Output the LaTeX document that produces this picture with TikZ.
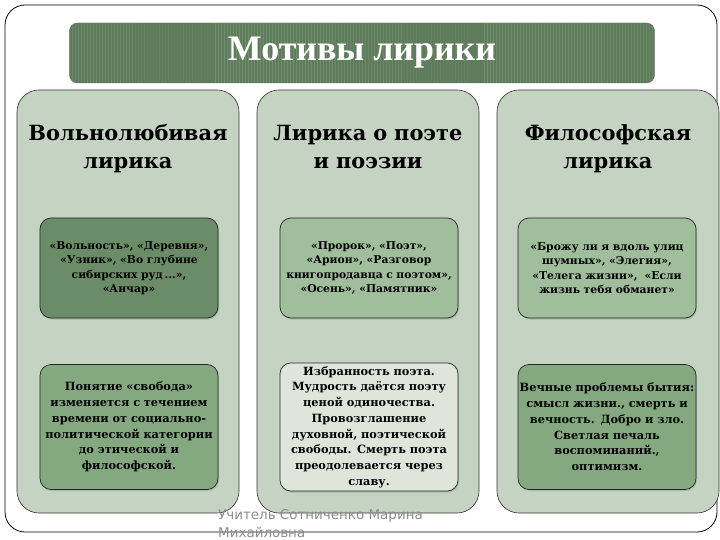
\documentclass[tikz,border=0pt]{standalone}
\usepackage{fontspec}
\setmainfont{Liberation Serif}
\newfontfamily\boxfont{DejaVu Serif}
\newfontfamily\footfont{DejaVu Sans}
\usetikzlibrary{positioning,patterns,shadows}

\definecolor{sage}{HTML}{C5D4C2}
\definecolor{titlegreen}{HTML}{5E7B5B}
\definecolor{stripegreen}{HTML}{728E6F}
\definecolor{boxdark}{HTML}{6A8C66}
\definecolor{boxmid}{HTML}{84A880}
\definecolor{boxlight}{HTML}{A0BD9C}
\definecolor{boxpale}{HTML}{DEE6DC}

\begin{document}
\begin{tikzpicture}[
    x=1bp, y=-1bp,
    frame/.style={draw=black, fill=white, rounded corners=20bp, line width=0.8pt},
    titlebar/.style={rectangle, draw=black!60, fill=titlegreen, rounded corners=8bp,
                     minimum width=585bp, minimum height=60bp,
                     postaction={pattern=vertical lines, pattern color=stripegreen},
                     font=\fontsize{36}{40}\selectfont\bfseries, text=white},
    column/.style={rectangle, draw=black!80, fill=sage, rounded corners=22bp,
                   minimum width=222bp, minimum height=423bp, line width=0.6pt},
    head/.style={text width=218bp, align=center, anchor=north, inner sep=0pt,
                 font=\boxfont\fontsize{21}{28}\selectfont\bfseries},
    inbox/.style={rectangle, draw=black!85, rounded corners=11bp, line width=0.7pt,
                  minimum width=178bp, text width=178bp, align=center, inner xsep=0pt,
                  drop shadow={shadow xshift=1bp, shadow yshift=-1.5bp, opacity=0.35}},
    topbox/.style={inbox, minimum height=100bp,
                   font=\boxfont\fontsize{10.8}{14.5}\selectfont\bfseries},
    lowbox/.style={inbox, minimum height=125bp,
                   font=\boxfont\fontsize{11.4}{15.8}\selectfont\bfseries},
    foot/.style={text=black!45, font=\footfont\fontsize{13.5}{18}\selectfont,
                 align=left, inner sep=0pt}
  ]
    \useasboundingbox (0,0) rectangle (720,540);
    \fill[white] (0,0) rectangle (720,540);

    %--- frame and title ---
    \draw[frame] (5,5) rectangle (717,532);
    \node[titlebar] (title) at (362,53) {Мотивы лирики};

    %--- columns ---
    \node[column] (c1) at (128,301.5) {};
    \node[column] (c2) at (368,301.5) {};
    \node[column] (c3) at (608,301.5) {};

    \node[head] (h1) at (128,121) {\strut Вольнолюбивая\\лирика};
    \node[head] (h2) at (368,121) {\strut Лирика о поэте\\и поэзии};
    \node[head] (h3) at (608,121) {\strut Философская\\лирика};

    %--- works ---
    \node[topbox, fill=boxdark] (w1) at (129,268)
      {«Вольность», «Деревня»,\\«Узник», «Во глубине\\сибирских руд\,...»,\\«Анчар»};
    \node[topbox, fill=boxlight] (w2) at (369,268)
      {«Пророк», «Поэт»,\\«Арион», «Разговор\\книгопродавца с поэтом»,\\«Осень», «Памятник»};
    \node[topbox, fill=boxlight] (w3) at (607,268)
      {«Брожу ли я вдоль улиц\\шумных», «Элегия»,\\«Телега жизни», \ «Если\\жизнь тебя обманет»};

    %--- ideas ---
    \node[lowbox, fill=boxmid] (m1) at (129,427)
      {Понятие «свобода»\\изменяется с течением\\времени от социально-\\политической категории\\до этической и\\философской.};
    \node[lowbox, fill=boxpale] (m2) at (369,427)
      {Избранность поэта.\\Мудрость даётся поэту\\ценой одиночества.\\Провозглашение\\духовной, поэтической\\свободы. Смерть поэта\\преодолевается через\\славу.};
    \node[lowbox, fill=boxmid] (m3) at (607,427)
      {Вечные проблемы бытия:\\смысл жизни., смерть и\\вечность. Добро и зло.\\Светлая печаль\\воспоминаний.,\\оптимизм.};

    %--- footer ---
    \node[foot, anchor=north west] (author) at (218,509)
      {Учитель Сотниченко Марина\\Михайловна};
  \end{tikzpicture}
\end{document}
